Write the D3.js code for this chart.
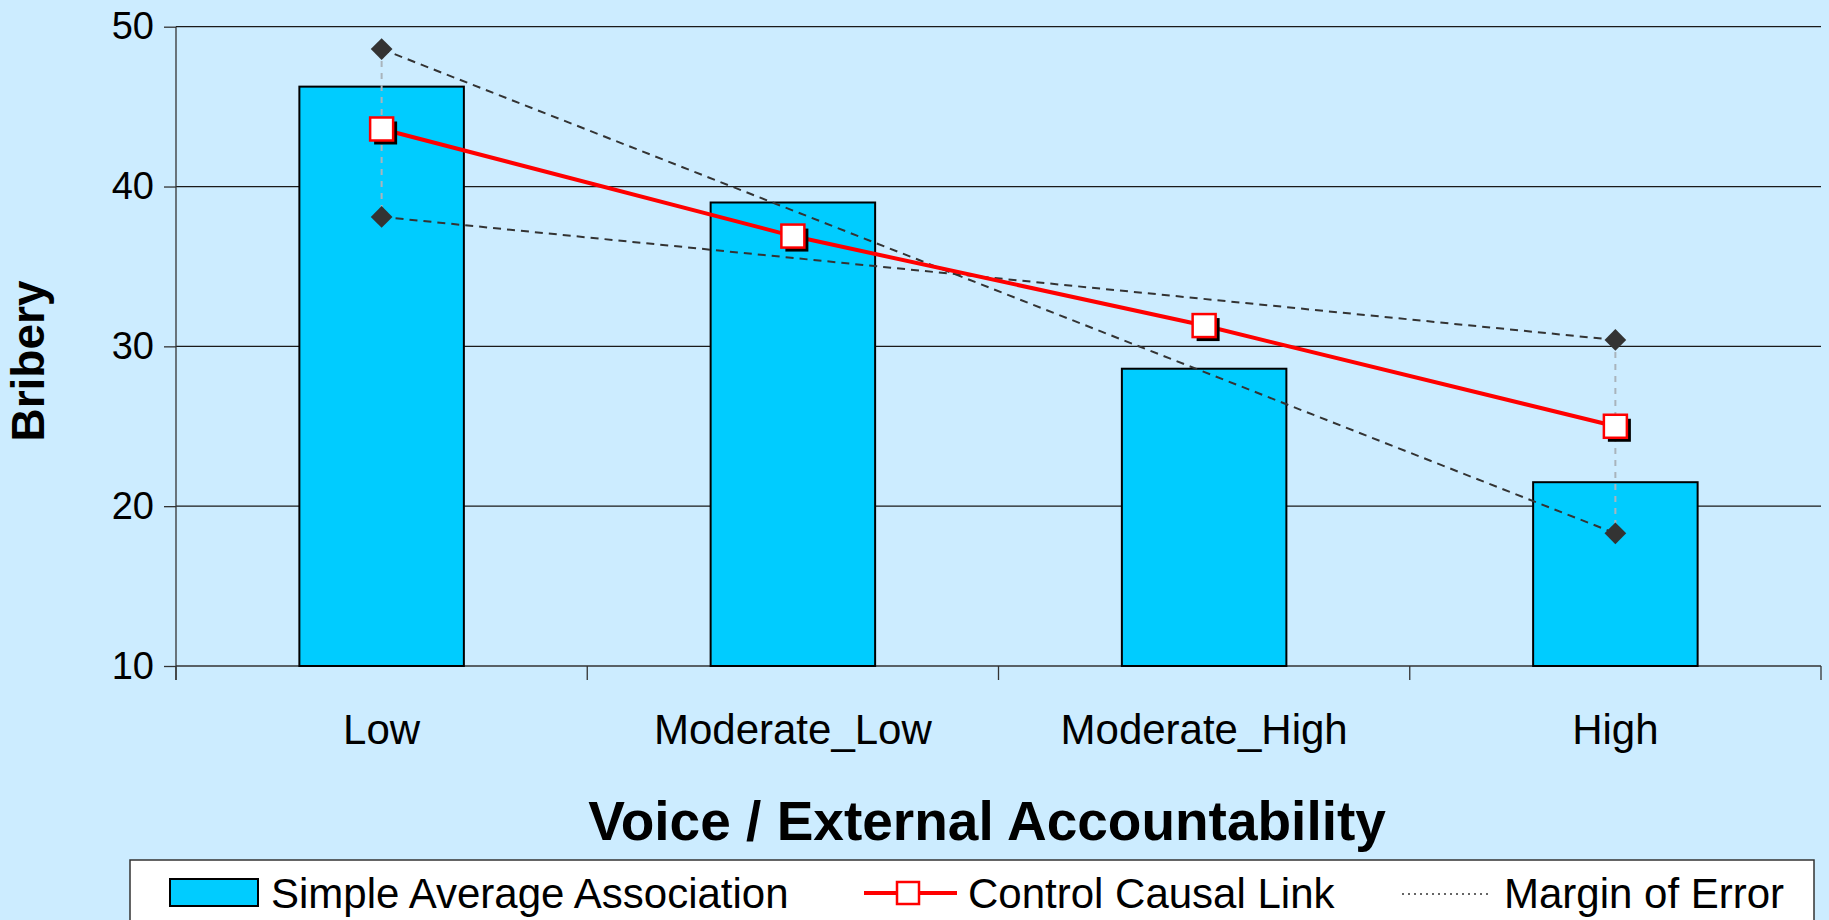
<!DOCTYPE html>
<html>
<head>
<meta charset="utf-8">
<script src="https://cdn.jsdelivr.net/npm/d3@7"></script>
<style>
  html, body { margin: 0; padding: 0; background: #ccecff; }
  svg { display: block; font-family: "Liberation Sans", Arial, sans-serif; }
</style>
</head>
<body>
<svg id="chart" width="1829" height="920"></svg>
<script>
// values
var categories = ["Low", "Moderate_Low", "Moderate_High", "High"];
var simpleAverage = [46.25, 39.0, 28.6, 21.5];
var controlCausal = [43.6, 36.9, 31.3, 25.0];
// margin of error: two lines, known only at the two ends (Low, High)
var marginCats = ["Low", "High"];
var marginA = [48.6, 18.3];
var marginB = [38.1, 30.4];
var yTicks = [10, 20, 30, 40, 50];
var legendLabels = ["Simple Average Association", "Control Causal Link", "Margin of Error"];

var svg = d3.select("#chart");
var margin = {top: 26.7, right: 8, bottom: 254, left: 176},
    W = 1829, H = 920,
    plotL = margin.left, plotR = W - margin.right,
    plotT = margin.top, plotB = H - margin.bottom;

svg.append("rect").attr("width", W).attr("height", H).attr("fill", "#ccecff");

var x = d3.scaleBand().domain(categories).range([plotL, plotR])
    .paddingInner(0.6).paddingOuter(0.3);
var y = d3.scaleLinear().domain([10, 50]).range([plotB, plotT]);
var cx = function(c) { return x(c) + x.bandwidth() / 2; };

// gridlines
svg.append("g").selectAll("line")
    .data(yTicks.filter(function(d) { return d > 10; }))
    .enter().append("line")
    .attr("x1", plotL).attr("x2", plotR)
    .attr("y1", function(d) { return y(d); }).attr("y2", function(d) { return y(d); })
    .attr("stroke", "#1a1a1a").attr("stroke-width", 1.3);

// y axis
var yAxis = svg.append("g")
    .attr("transform", "translate(" + plotL + ",0)")
    .call(d3.axisLeft(y).tickValues(yTicks).tickSize(12).tickPadding(10).tickFormat(d3.format("d")));
yAxis.select(".domain").remove();
yAxis.selectAll(".tick line").attr("stroke", "#333").attr("stroke-width", 1.3);
yAxis.selectAll(".tick text").attr("font-size", 38).attr("fill", "#000")
    .attr("font-family", "Liberation Sans, Arial, sans-serif");
svg.append("line").attr("x1", plotL).attr("x2", plotL).attr("y1", plotT).attr("y2", plotB + 14)
    .attr("stroke", "#333").attr("stroke-width", 1.3);

// x axis: line at baseline, ticks between categories
svg.append("line").attr("x1", plotL).attr("x2", plotR).attr("y1", plotB).attr("y2", plotB)
    .attr("stroke", "#333").attr("stroke-width", 1.3);
var step = x.step();
var bounds = d3.range(categories.length + 1).map(function(i) { return plotL + i * step; });
svg.append("g").selectAll("line").data(bounds).enter().append("line")
    .attr("x1", function(d) { return d; }).attr("x2", function(d) { return d; })
    .attr("y1", plotB).attr("y2", plotB + 14)
    .attr("stroke", "#333").attr("stroke-width", 1.3);
svg.append("g").selectAll("text").data(categories).enter().append("text")
    .attr("x", function(d) { return cx(d); }).attr("y", 744)
    .attr("text-anchor", "middle").attr("font-size", 42).attr("fill", "#000")
    .text(function(d) { return d; });

// bars
svg.append("g").selectAll("rect").data(simpleAverage).enter().append("rect")
    .attr("x", function(d, i) { return x(categories[i]); })
    .attr("width", x.bandwidth())
    .attr("y", function(d) { return y(d); })
    .attr("height", function(d) { return y(10) - y(d); })
    .attr("fill", "#00ccff").attr("stroke", "#000").attr("stroke-width", 2);

// high-low style grey verticals at the ends
svg.append("g").selectAll("line").data(marginCats).enter().append("line")
    .attr("x1", function(c) { return cx(c); }).attr("x2", function(c) { return cx(c); })
    .attr("y1", function(c, i) { return y(Math.max(marginA[i], marginB[i])); })
    .attr("y2", function(c, i) { return y(Math.min(marginA[i], marginB[i])); })
    .attr("stroke", "#a9b4bc").attr("stroke-width", 2).attr("stroke-dasharray", "6,6");

// margin of error dashed lines
var mLine = d3.line().x(function(d) { return cx(d.c); }).y(function(d) { return y(d.v); });
[marginA, marginB].forEach(function(series) {
    var pts = series.map(function(v, i) { return {c: marginCats[i], v: v}; });
    svg.append("path").datum(pts).attr("d", mLine)
        .attr("fill", "none").attr("stroke", "#333").attr("stroke-width", 2)
        .attr("stroke-dasharray", "8,6");
});

// control causal link
var cLine = d3.line().x(function(d, i) { return cx(categories[i]); }).y(function(d) { return y(d); });
svg.append("path").datum(controlCausal).attr("d", cLine)
    .attr("fill", "none").attr("stroke", "#ff0000").attr("stroke-width", 4);
var sq = 23;
var marks = svg.append("g").selectAll("g").data(controlCausal).enter().append("g")
    .attr("transform", function(d, i) { return "translate(" + cx(categories[i]) + "," + y(d) + ")"; });
marks.append("rect").attr("x", -sq / 2 + 4).attr("y", -sq / 2 + 4).attr("width", sq).attr("height", sq)
    .attr("fill", "#000");
marks.append("rect").attr("x", -sq / 2).attr("y", -sq / 2).attr("width", sq).attr("height", sq)
    .attr("fill", "#fff").attr("stroke", "#ff0000").attr("stroke-width", 2.5);

// diamonds
var diamond = d3.symbol().type(d3.symbolDiamond2).size(300);
[marginA, marginB].forEach(function(series) {
    svg.append("g").selectAll("path").data(series).enter().append("path")
        .attr("d", diamond)
        .attr("transform", function(d, i) { return "translate(" + cx(marginCats[i]) + "," + y(d) + ")"; })
        .attr("fill", "#333");
});

// axis titles
svg.append("text").attr("x", 987).attr("y", 840).attr("text-anchor", "middle")
    .attr("font-size", 55).attr("font-weight", "bold").attr("fill", "#000")
    .text("Voice / External Accountability");
svg.append("text").attr("transform", "translate(44,361) rotate(-90)")
    .attr("text-anchor", "middle").attr("font-size", 46).attr("font-weight", "bold").attr("fill", "#000")
    .text("Bribery");

// legend
var lg = svg.append("g");
lg.append("rect").attr("x", 130).attr("y", 860).attr("width", 1684).attr("height", 80)
    .attr("fill", "#fff").attr("stroke", "#333").attr("stroke-width", 1.5);
lg.append("rect").attr("x", 170).attr("y", 879).attr("width", 88).attr("height", 27)
    .attr("fill", "#00ccff").attr("stroke", "#000").attr("stroke-width", 2);
lg.append("text").attr("x", 271).attr("y", 908).attr("font-size", 42).text(legendLabels[0]);
lg.append("line").attr("x1", 864).attr("x2", 957).attr("y1", 893).attr("y2", 893)
    .attr("stroke", "#ff0000").attr("stroke-width", 4);
lg.append("rect").attr("x", 897).attr("y", 882).attr("width", 22).attr("height", 22)
    .attr("fill", "#fff").attr("stroke", "#ff0000").attr("stroke-width", 2.5);
lg.append("text").attr("x", 968).attr("y", 908).attr("font-size", 42).text(legendLabels[1]);
lg.append("line").attr("x1", 1402).attr("x2", 1490).attr("y1", 894).attr("y2", 894)
    .attr("stroke", "#333").attr("stroke-width", 1.5).attr("stroke-dasharray", "2,4");
lg.append("text").attr("x", 1504).attr("y", 908).attr("font-size", 42).text(legendLabels[2]);
</script>
</body>
</html>
